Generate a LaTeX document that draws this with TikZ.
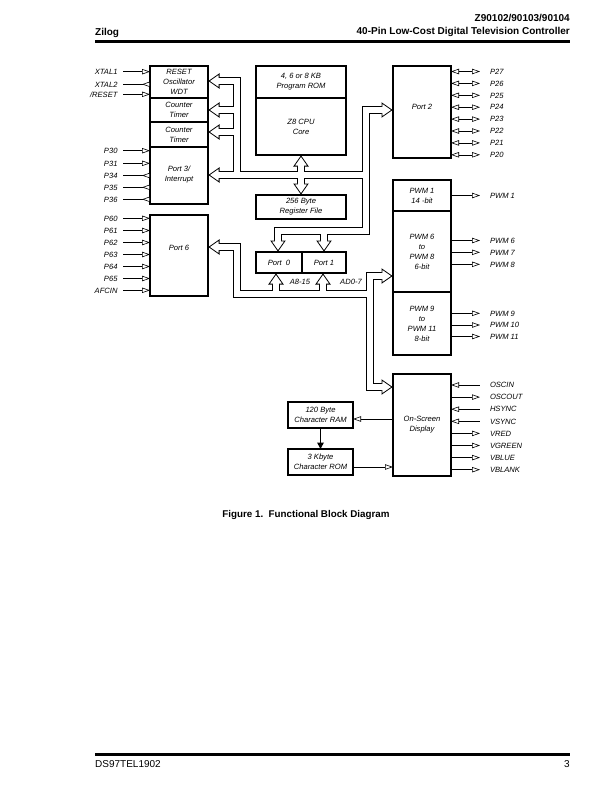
\documentclass[tikz,border=0pt]{standalone}
\usepackage{fontspec}
\setmainfont{Liberation Sans}
\usetikzlibrary{arrows.meta}
\usetikzlibrary{calc}
\usetikzlibrary{positioning}

\newcommand\blkfont{\fontsize{7.6}{10}\selectfont\itshape}
\newcommand\pinfont{\fontsize{7.6}{9}\selectfont\itshape}
\newcommand\hdrfont{\fontsize{10}{12}\selectfont\bfseries}

\tikzset{
  block/.style={draw, line width=2.2pt, outer sep=0pt, inner sep=1pt, minimum width=58pt, align=center, font=\blkfont},
  pinlbl/.style={inner ysep=0pt, outer sep=0pt, text height=5.4pt, text depth=0pt, font=\pinfont},
  pinline/.style={line width=0.6pt},
  hdr/.style={inner sep=0pt, font=\hdrfont},
  Pin/.tip={Triangle[fill=white, length=8pt, width=5.4pt]},
  busouter/.style={line width=8.4pt, line join=miter},
  businner/.style={line width=6.8pt, white, line join=miter},
  bushead/.pic={\draw[line width=0.8pt, fill=white, line join=miter] (0,0) -- (-10,7) -- (-10,-7) -- cycle;},
}

% internal buses, drawn twice (outline, then hollow)
\newcommand\busroutes{
  ($(hRst)+(9,0)$) -| (jComb)
  ($(hCt1)+(9,0)$) -- (hCt1 -| jComb)
  ($(hCt2)+(9,0)$) -- (hCt2 -| jComb)
  ($(hP3)+(9,0)$) -- (hP3 -| jTop)
  ($(hP2)+(-9,0)$) -| (jTop) -| ($(hP0t)+(0,-9)$)
  (hP1t |- jTop) -- ($(hP1t)+(0,-9)$)
  ($(hCpu)+(0,9)$) -- ($(hReg)+(0,-9)$)
  ($(hP6)+(9,0)$) -| (jLow) -- (jBot)
  ($(hP0b)+(0,9)$) -- (hP0b |- jBot)
  ($(hP1b)+(0,9)$) -- (hP1b |- jBot)
  ($(hPwm)+(-9,0)$) -| (hOsd -| jBot) -- ($(hOsd)+(-9,0)$)
}

\begin{document}
\begin{tikzpicture}[x=1pt, y=-1pt]
\useasboundingbox (0,0) rectangle (612,792);

% page header and footer
\node[hdr, anchor=base west] (zilog) at (95,36) {Zilog};
\node[hdr, anchor=base east] (partno) at (570,22) {Z90102/90103/90104};
\node[hdr, anchor=base east] (title) at (570,35) {40-Pin Low-Cost Digital Television Controller};
\draw[line width=2.4pt] (95,41.5) -- (570,41.5);
\draw[line width=2.2pt] (95,754.5) -- (570,754.5);
\node[inner sep=0pt, font=\fontsize{10}{12}\selectfont, anchor=base west] (docno) at (95,767) {DS97TEL1902};
\node[inner sep=0pt, font=\fontsize{10}{12}\selectfont, anchor=base east] (pageno) at (570,767) {3};
\node[font=\fontsize{9.8}{12}\selectfont\bfseries] (caption) at (306,515) {Figure 1.\ \ Functional Block Diagram};

% left column
\node[block, minimum height=32pt] (reset) at (179,82) {RESET\\Oscillator\\WDT};
\node[block, minimum height=24pt, below=0pt of reset] (ctr1) {Counter\\Timer};
\node[block, minimum height=25pt, below=0pt of ctr1] (ctr2) {Counter\\Timer};
\node[block, minimum height=57pt, below=0pt of ctr2, text depth=3pt] (port3) {Port 3/\\Interrupt};
\node[block, minimum height=81pt, text depth=15pt] (port6) at (179,255.5) {Port 6};

% middle column
\node[block, minimum width=90pt, minimum height=32pt] (rom) at (301,82) {4, 6 or 8 KB\\Program ROM};
\node[block, minimum width=90pt, minimum height=57pt, below=0pt of rom] (cpu) {Z8 CPU\\Core};
\node[block, minimum width=90pt, minimum height=24pt] (regfile) at (301,207) {256 Byte\\Register File};
\node[block, minimum width=46pt, minimum height=21pt] (port0) at (279,262.5) {Port\ \ 0};
\node[block, minimum width=44pt, minimum height=21pt, right=0pt of port0] (port1) {Port 1};
\node[block, minimum width=65pt, minimum height=26pt] (charram) at (320.5,415) {120 Byte\\Character RAM};
\node[block, minimum width=65pt, minimum height=26pt, below=21pt of charram] (charrom) {3 Kbyte\\Character ROM};

% right column
\node[block, minimum height=92pt, text depth=10.6pt] (port2) at (422,112) {Port 2};
\node[block, minimum height=31pt] (pwm1) at (422,195.5) {PWM 1\\14 -bit};
\node[block, minimum height=81pt, below=0pt of pwm1] (pwm6) {PWM 6\\to\\PWM 8\\6-bit};
\node[block, minimum height=63pt, below=0pt of pwm6] (pwm9) {PWM 9\\to\\PWM 11\\8-bit};
\node[block, minimum height=102pt] (osd) at (422,425) {On-Screen\\Display};

% bus head tips and junctions
\coordinate (hRst) at ($(reset.east)+(1.1,-1)$);
\coordinate (hCt1) at ($(ctr1.east)+(1.1,0)$);
\coordinate (hCt2) at ($(ctr2.east)+(1.1,-2.5)$);
\coordinate (hP3) at ($(port3.east)+(1.1,-0.5)$);
\coordinate (hP6) at ($(port6.east)+(1.1,-8.5)$);
\coordinate (hP2) at ($(port2.west)+(-1.1,-2)$);
\coordinate (hPwm) at ($(pwm6.west)+(-1.1,24.5)$);
\coordinate (hOsd) at ($(osd.west)+(-1.1,-38)$);
\coordinate (hCpu) at ($(cpu.south)+(0,1.1)$);
\coordinate (hReg) at ($(regfile.north)+(0,-1.1)$);
\coordinate (hP0t) at ($(port0.north)+(-1,-1.1)$);
\coordinate (hP1t) at ($(port1.north)+(0,-1.1)$);
\coordinate (hP0b) at ($(port0.south)+(-3,1.1)$);
\coordinate (hP1b) at ($(port1.south)+(-1,1.1)$);
\coordinate (jComb) at (237,175);
\coordinate (jTop) at (366,231);
\coordinate (jLow) at (237,294);
\coordinate (jBot) at (370,294);

\draw[busouter] \busroutes;
\foreach \h/\ang in {hRst/180,hCt1/180,hCt2/180,hP3/180,hP6/180,hP2/0,hPwm/0,hOsd/0,hCpu/90,hP0b/90,hP1b/90,hReg/-90,hP0t/-90,hP1t/-90}
  \pic[rotate=\ang] at (\h) {bushead};
\draw[businner] \busroutes;
\node[pinlbl, font=\pinfont] (a815) at (300,282) {A8-15};
\node[pinlbl, font=\pinfont] (ad07) at (351,282) {AD0-7};

% left pins
\foreach \txt/\yy/\blk [count=\i] in {XTAL1/71.7/reset,{/RESET}/94.3/reset,P30/150.7/port3,P31/163.3/port3,P60/218.3/port6,P61/230.5/port6,P62/242.5/port6,P63/254.5/port6,P64/266.5/port6,P65/278.5/port6,AFCIN/290.3/port6}{
  \node[pinlbl, anchor=east, inner xsep=5.5pt] (li\i) at (123,\yy) {\txt};
  \draw[pinline, -Pin] (li\i.east) -- (li\i.east -| \blk.west);
}
\foreach \txt/\yy/\blk [count=\i] in {XTAL2/84.3/reset,P34/175.5/port3,P35/187.3/port3,P36/199.3/port3}{
  \node[pinlbl, anchor=east, inner xsep=5.5pt] (lo\i) at (123,\yy) {\txt};
  \draw[pinline] (lo\i.east) -- (lo\i.east -| \blk.west);
  \draw[pinline, -Pin] (lo\i.east -| \blk.west) -- ++(-8,0);
}

% right pins
\foreach \txt/\yy [count=\i] in {P27/71.5,P26/83.4,P25/95.3,P24/107.2,P23/119.1,P22/131,P21/142.9,P20/154.8}{
  \node[pinlbl, anchor=west, inner xsep=10pt] (rb\i) at (480,\yy) {\txt};
  \draw[pinline, Pin-Pin] (rb\i.west -| port2.east) -- (rb\i.west);
}
\foreach \txt/\yy/\blk [count=\i] in {PWM 1/195.5/pwm1,PWM 6/240.5/pwm6,PWM 7/252.3/pwm6,PWM 8/264.3/pwm6,PWM 9/313.3/pwm9,PWM 10/325/pwm9,PWM 11/336.5/pwm9,OSCOUT/397.1/osd,VRED/433.4/osd,VGREEN/445.5/osd,VBLUE/457.6/osd,VBLANK/469.7/osd}{
  \node[pinlbl, anchor=west, inner xsep=10pt] (ro\i) at (480,\yy) {\txt};
  \draw[pinline, -Pin] (ro\i.west -| \blk.east) -- (ro\i.west);
}
\foreach \txt/\yy [count=\i] in {OSCIN/385,HSYNC/409.2,VSYNC/421.3}{
  \node[pinlbl, anchor=west, inner xsep=10pt] (ri\i) at (480,\yy) {\txt};
  \draw[pinline, Pin-] (ri\i.west -| osd.east) -- (ri\i.west);
}

% character memory links
\draw[pinline, Pin-] ([yshift=-4pt]charram.east) -- ([yshift=-4pt]charram.east -| osd.west);
\draw[pinline, -Pin] ([yshift=-5pt]charrom.east) -- ([yshift=-5pt]charrom.east -| osd.west);
\draw[line width=1.6pt, -{Triangle[length=6.5pt, width=6.5pt]}] (charram.south) -- (charrom.north);
\end{tikzpicture}
\end{document}
